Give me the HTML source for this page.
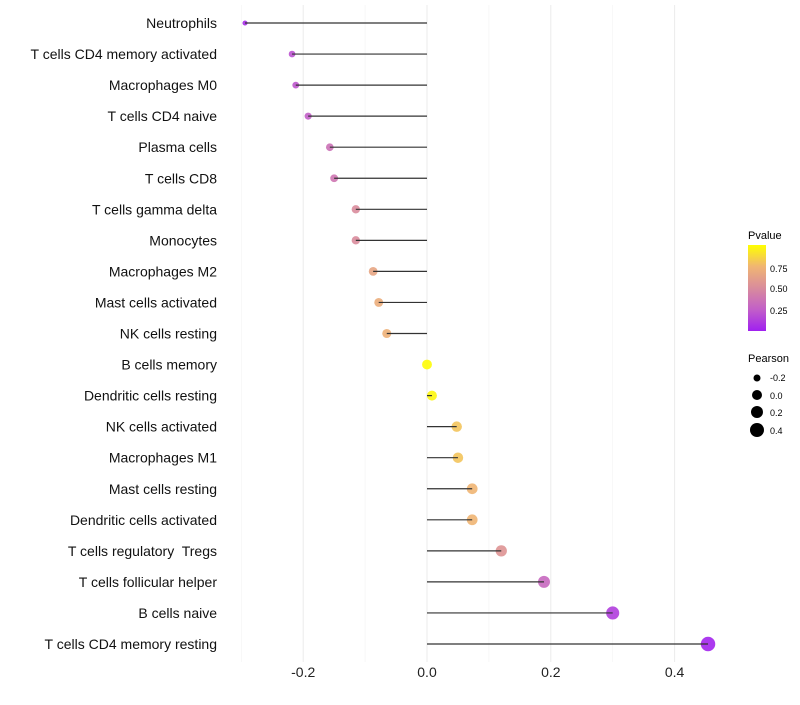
<!DOCTYPE html>
<html><head><meta charset="utf-8"><style>
body{margin:0;background:#fff;font-family:"Liberation Sans",sans-serif}
text{white-space:pre}
</style></head><body>
<svg id="chart" width="800" height="700" font-family="Liberation Sans, sans-serif">
<defs><linearGradient id="pg" x1="0" y1="1" x2="0" y2="0">
<stop offset="0" stop-color="#a020f0"/><stop offset="0.25" stop-color="#c25fc8"/><stop offset="0.5" stop-color="#d98c9c"/><stop offset="0.75" stop-color="#f0b573"/><stop offset="1" stop-color="#ffff00"/></linearGradient></defs>
<g id="grid"></g><g id="points"></g><g id="marks"></g><g id="labels"></g>
<g>
<text x="748" y="239" font-size="11">Pvalue</text>
<rect x="748" y="245" width="18" height="86" fill="url(#pg)"/>
<text x="770" y="272" font-size="9">0.75</text><text x="770" y="292" font-size="9">0.50</text><text x="770" y="314" font-size="9">0.25</text>
</g>
<g>
<text x="748" y="362" font-size="11">Pearson</text>
<circle cx="757" cy="378" r="3.5"/><text x="770" y="381" font-size="9">-0.2</text>
<circle cx="757" cy="395" r="5"/><text x="770" y="399" font-size="9">0.0</text>
<circle cx="757" cy="412" r="6"/><text x="770" y="416" font-size="9">0.2</text>
<circle cx="757" cy="430" r="7"/><text x="770" y="434" font-size="9">0.4</text>
</g>
</svg>
<script>
const categories=["Neutrophils","T cells CD4 memory activated","Macrophages M0","T cells CD4 naive","Plasma cells","T cells CD8","T cells gamma delta","Monocytes","Macrophages M2","Mast cells activated","NK cells resting","B cells memory","Dendritic cells resting","NK cells activated","Macrophages M1","Mast cells resting","Dendritic cells activated","T cells regulatory  Tregs","T cells follicular helper","B cells naive","T cells CD4 memory resting"];
const pearson=[-0.294,-0.218,-0.212,-0.192,-0.157,-0.150,-0.115,-0.115,-0.087,-0.078,-0.065,0.0,0.008,0.048,0.050,0.073,0.073,0.120,0.189,0.300,0.454];
const pvalue=[0.05,0.2,0.22,0.25,0.35,0.38,0.5,0.5,0.65,0.7,0.72,0.99,0.97,0.8,0.8,0.75,0.75,0.55,0.3,0.12,0.02];
const xTicks=[-0.2,0,0.2,0.4];
const xMinor=[-0.3,-0.1,0.1,0.3];
const NS="http://www.w3.org/2000/svg";
const x=v=>427+v*619;
const y=i=>23+i*31.05;
const stops=[[0,[160,32,240]],[0.25,[194,95,200]],[0.5,[217,140,156]],[0.75,[240,181,115]],[1,[255,255,0]]];
function col(p){for(let k=0;k<stops.length-1;k++){const[a,ca]=stops[k],[b,cb]=stops[k+1];if(p<=b){const t=(p-a)/(b-a);return "rgb("+ca.map((c,j)=>Math.round(c+(cb[j]-c)*t)).join(",")+")";}}return "rgb(255,255,0)";}
const rad=v=>Math.sqrt(Math.max(2,24.5+61*v));
function el(t,a,p){const e=document.createElementNS(NS,t);for(const k in a)e.setAttribute(k,a[k]);document.getElementById(p).appendChild(e);return e;}
xMinor.forEach(v=>{const l=el("line",{x1:x(v),x2:x(v),y1:5,y2:662,stroke:"#f2f2f2","stroke-width":0.6},"grid");

});
xTicks.forEach(v=>{const l=el("line",{x1:x(v),x2:x(v),y1:5,y2:662,stroke:"#ebebeb","stroke-width":1},"grid");


const t=el("text",{x:x(v),y:677,"font-size":14,"text-anchor":"middle",fill:"#222"},"labels");t.textContent=v===0?"0.0":v.toFixed(1);

});
categories.forEach((c,i)=>{const t=el("text",{x:217,y:y(i)+5,"font-size":14,"text-anchor":"end",fill:"#111"},"labels");t.textContent=c;


const p=el("circle",{cx:x(pearson[i]),cy:y(i),r:rad(pearson[i]),fill:col(pvalue[i]),"fill-opacity":0.9},"points");


const l=el("line",{x1:x(0),x2:x(pearson[i]),y1:y(i),y2:y(i),stroke:"#333","stroke-width":1.2},"marks");

});
</script>
</body></html>
